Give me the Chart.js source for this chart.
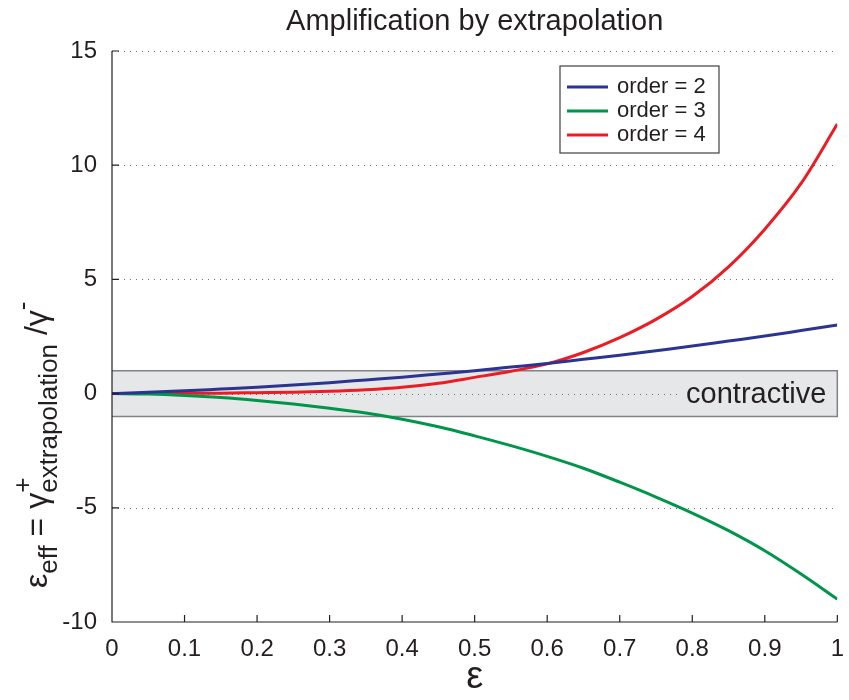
<!DOCTYPE html>
<html>
<head>
<meta charset="utf-8">
<title>Amplification by extrapolation</title>
<script src="https://cdn.jsdelivr.net/npm/chart.js@4.4.0/dist/chart.umd.min.js"></script>
<style>
  html, body { margin: 0; padding: 0; background: #fff; }
</style>
</head>
<body>
<canvas id="chart" width="849" height="700"></canvas>
<script>
var FONT = '"Liberation Sans", Arial, Helvetica, sans-serif';
var INK = '#231f20';

// epsilon samples and the effective amplification for each order
var eps = [0, 0.05, 0.1, 0.15, 0.2, 0.25, 0.3, 0.35, 0.4, 0.45, 0.5,
           0.55, 0.6, 0.65, 0.7, 0.75, 0.8, 0.85, 0.9, 0.95, 1];
var order2 = [0, 0.06, 0.12, 0.2, 0.28, 0.38, 0.48, 0.6, 0.72, 0.86, 1.0,
              1.16, 1.32, 1.5, 1.68, 1.88, 2.08, 2.3, 2.52, 2.76, 3.0];
var order3 = [0, -0.02, -0.08, -0.17, -0.3, -0.46, -0.64, -0.85, -1.12, -1.45, -1.85,
              -2.28, -2.75, -3.27, -3.88, -4.53, -5.23, -6.0, -6.88, -7.9, -9.0];
var order4 = [0, 0, 0.01, 0.02, 0.04, 0.06, 0.1, 0.17, 0.28, 0.45, 0.71,
              0.98, 1.3, 1.8, 2.45, 3.25, 4.25, 5.55, 7.2, 9.2, 11.8];

var seriesNames = ['order = 2', 'order = 3', 'order = 4'];
var seriesColors = ['#2b3590', '#00954a', '#ec1c24'];

var xMin = 0, xMax = 1, xStep = 0.1;
var yMin = -10, yMax = 15, yStep = 5;
var bandLow = -1, bandHigh = 1;

function points(ys) {
    var out = [];
    for (var i = 0; i < eps.length; i++) {
        out.push({x: eps[i], y: ys[i]});
    }
    return out;
}

function drawYLabel(ctx) {
    var big = '32px ' + FONT;
    var small = '26px ' + FONT;
    var parts = [
        {t: '\u03b5', f: big, dy: 0},
        {t: 'eff', f: small, dy: 10},
        {t: ' = ', f: big, dy: 0},
        {t: '\u03b3', f: big, dy: 0},
        {t: '+', f: small, dy: -16, still: true},
        {t: 'extrapolation', f: small, dy: 10},
        {t: ' /\u03b3', f: big, dy: 0},
        {t: '-', f: small, dy: -16}
    ];
    ctx.save();
    ctx.translate(47, 588);
    ctx.rotate(-Math.PI / 2);
    ctx.fillStyle = INK;
    ctx.textAlign = 'left';
    ctx.textBaseline = 'alphabetic';
    var x = 0;
    for (var i = 0; i < parts.length; i++) {
        var p = parts[i];
        ctx.font = p.f;
        ctx.fillText(p.t, x, p.dy);
        if (!p.still) {
            x += ctx.measureText(p.t).width;
        }
    }
    ctx.restore();
}

var decorations = {
    id: 'decorations',
    beforeDatasetsDraw: function(chart) {
        var ctx = chart.ctx;
        var a = chart.chartArea;
        var ys = chart.scales.y;
        var top = ys.getPixelForValue(bandHigh);
        var bot = ys.getPixelForValue(bandLow);

        ctx.save();
        // contractive band
        ctx.fillStyle = '#e6e7e8';
        ctx.fillRect(a.left, top, a.right - a.left, bot - top);
        ctx.strokeStyle = '#808285';
        ctx.lineWidth = 1.5;
        ctx.beginPath();
        ctx.moveTo(a.left, top);
        ctx.lineTo(a.right, top);
        ctx.lineTo(a.right, bot);
        ctx.lineTo(a.left, bot);
        ctx.stroke();

        // dotted horizontal grid
        ctx.strokeStyle = '#6d6e71';
        ctx.lineWidth = 1;
        ctx.setLineDash([1, 5]);
        ys.ticks.forEach(function(t) {
            if (t.value === yMin) return;
            var py = Math.round(ys.getPixelForValue(t.value)) + 0.5;
            ctx.beginPath();
            ctx.moveTo(a.left, py);
            ctx.lineTo(a.right, py);
            ctx.stroke();
        });
        ctx.setLineDash([]);

        // band label sits on a patch of band colour so the dots stop short of it
        ctx.font = '29px ' + FONT;
        var label = 'contractive';
        var w = ctx.measureText(label).width;
        ctx.fillStyle = '#e6e7e8';
        ctx.fillRect(a.right - 12 - w - 8, top + 2, w + 18, bot - top - 4);
        ctx.fillStyle = INK;
        ctx.textAlign = 'right';
        ctx.textBaseline = 'middle';
        ctx.fillText(label, a.right - 11, (top + bot) / 2 + 1);
        ctx.restore();
    },
    afterDraw: function(chart) {
        var ctx = chart.ctx;
        var a = chart.chartArea;
        var xs = chart.scales.x;
        var ys = chart.scales.y;

        ctx.save();
        // axes with inward ticks
        ctx.strokeStyle = INK;
        ctx.lineWidth = 1.2;
        ctx.beginPath();
        ctx.moveTo(a.left, a.top);
        ctx.lineTo(a.left, a.bottom);
        ctx.lineTo(a.right, a.bottom);
        xs.ticks.forEach(function(t) {
            var px = xs.getPixelForValue(t.value);
            ctx.moveTo(px, a.bottom);
            ctx.lineTo(px, a.bottom - 7);
        });
        ys.ticks.forEach(function(t) {
            var py = ys.getPixelForValue(t.value);
            ctx.moveTo(a.left, py);
            ctx.lineTo(a.left + 7, py);
        });
        ctx.stroke();

        // title and x label
        ctx.fillStyle = INK;
        ctx.textAlign = 'center';
        ctx.textBaseline = 'middle';
        ctx.font = '29px ' + FONT;
        ctx.fillText('Amplification by extrapolation', (a.left + a.right) / 2, 22);
        ctx.font = '38px ' + FONT;
        ctx.fillText('\u03b5', (a.left + a.right) / 2, 678);

        drawYLabel(ctx);

        // legend
        var lx = 560, ly = 66, lw = 159, lh = 87;
        ctx.fillStyle = '#fff';
        ctx.fillRect(lx, ly, lw, lh);
        ctx.strokeStyle = '#414042';
        ctx.lineWidth = 1.2;
        ctx.strokeRect(lx, ly, lw, lh);
        ctx.font = '22px ' + FONT;
        ctx.textAlign = 'left';
        ctx.textBaseline = 'middle';
        chart.data.datasets.forEach(function(ds, i) {
            var cy = ly + 21 + i * 24;
            ctx.strokeStyle = ds.borderColor;
            ctx.lineWidth = 3;
            ctx.beginPath();
            ctx.moveTo(lx + 7, cy);
            ctx.lineTo(lx + 48, cy);
            ctx.stroke();
            ctx.fillStyle = INK;
            ctx.fillText(ds.label, lx + 57, cy);
        });
        ctx.restore();
    }
};

var datasets = [order2, order3, order4].map(function(ys, i) {
    return {
        label: seriesNames[i],
        data: points(ys),
        borderColor: seriesColors[i],
        borderWidth: 3,
        pointRadius: 0,
        cubicInterpolationMode: 'monotone',
        fill: false
    };
});

new Chart(document.getElementById('chart').getContext('2d'), {
    type: 'line',
    data: {datasets: datasets},
    options: {
        responsive: false,
        animation: false,
        layout: {padding: {top: 51, right: 11, left: 0, bottom: 0}},
        plugins: {legend: {display: false}, tooltip: {enabled: false}},
        scales: {
            x: {
                type: 'linear',
                min: xMin,
                max: xMax,
                grid: {display: false},
                border: {display: false},
                afterFit: function(scale) { scale.height = 78; },
                ticks: {
                    stepSize: xStep,
                    padding: 5,
                    color: INK,
                    font: {family: FONT, size: 24},
                    maxRotation: 0,
                    callback: function(v) { return String(Math.round(v * 10) / 10); }
                }
            },
            y: {
                min: yMin,
                max: yMax,
                grid: {display: false},
                border: {display: false},
                afterFit: function(scale) { scale.width = 112; },
                ticks: {
                    stepSize: yStep,
                    padding: 7,
                    color: INK,
                    font: {family: FONT, size: 24}
                }
            }
        }
    },
    plugins: [decorations]
});
</script>
</body>
</html>
